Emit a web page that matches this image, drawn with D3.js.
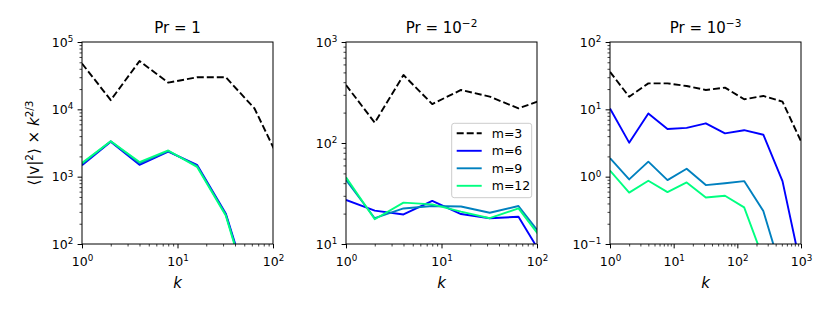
<!DOCTYPE html>
<html><head><meta charset="utf-8">
<script src="https://cdn.jsdelivr.net/npm/d3@7"></script>
<style>
body{margin:0;background:#fff}
svg{display:block;font-family:"DejaVu Sans",sans-serif}
</style></head><body>
<svg id="fig" width="830" height="312"></svg>
<script>
// wavenumbers for each panel
var kPr1 = [1,2,4,8,16,32,64,128];
var kPr2 = [1,2,4,8,16,32,64,128];
var kPr3 = [1,2,4,8,16,32,64,128,256,512,1024];

// <|v|^2> x k^(2/3)
var pr1_m3  = [48000,13700,52000,24900,29900,30000,10300,1340];
var pr1_m6  = [1480,3300,1500,2350,1500,285,12,2];
var pr1_m9  = [1540,3350,1580,2400,1450,275,11,2];
var pr1_m12 = [1600,3350,1650,2450,1400,265,10,2];

var pr2_m3  = [375,159,471,243,335,288,220,279];
var pr2_m6  = [27.3,21.4,19.6,26.7,19.8,18,18.6,6.3];
var pr2_m9  = [43,18,22.5,23.8,23.5,20.4,23.8,10.2];
var pr2_m12 = [45.7,17.6,25.7,24.7,20.9,18,22.5,9.5];

var pr3_m3  = [36,15.4,24.3,24.3,22.2,19.4,21,14.1,15.8,13,3.2];
var pr3_m6  = [10.3,3.2,8.7,5.1,5.3,6.2,4.4,4.9,4.2,0.86,0.04];
var pr3_m9  = [1.88,0.91,1.67,0.89,1.31,0.75,0.8,0.86,0.31,0.035,0.01];
var pr3_m12 = [1.23,0.58,0.87,0.59,0.82,0.49,0.52,0.35,0.06,0.01,0.005];

var mLabels = ["m=3","m=6","m=9","m=12"];
var mColors = ["#000000","#0000ff","#0080bf","#00ff80"];
var titleBase = ["Pr = 1","Pr = 10","Pr = 10"];
var titleExp = [null,"\u22122","\u22123"];
var xRanges = [[1,100],[1,100],[1,1000]];
var yRanges = [[100,1e5],[10,1000],[0.1,100]];

var panels = [
  {k: kPr1, series: [pr1_m3,pr1_m6,pr1_m9,pr1_m12]},
  {k: kPr2, series: [pr2_m3,pr2_m6,pr2_m9,pr2_m12]},
  {k: kPr3, series: [pr3_m3,pr3_m6,pr3_m9,pr3_m12]}
];

var lefts = [82, 346, 610], axTop = 42, w = 191, h = 202;
var fs = 12.5, bigFs = 15, lw = 1.9;
var majLen = 4.4, minLen = 2.5, pad = 4.4;

var svg = d3.select("#fig");

function expStr(v){
  var e = Math.round(Math.log10(v));
  return e < 0 ? "\u2212" + (-e) : "" + e;
}
function tickSets(dom){
  var lo = Math.round(Math.log10(dom[0])), hi = Math.round(Math.log10(dom[1]));
  var maj = [], min = [];
  for (var e = lo; e <= hi; e++){
    maj.push(Math.pow(10, e));
    if (e < hi) for (var j = 2; j < 10; j++) min.push(j * Math.pow(10, e));
  }
  return {maj: maj, min: min};
}
function powLabel(t, v, size){
  t.append("tspan").text("10");
  t.append("tspan").attr("dy", -0.38*size).attr("font-size", 0.7*size).text(expStr(v));
}

panels.forEach(function(p, i){
  var g = svg.append("g").attr("transform", "translate(" + lefts[i] + "," + axTop + ")");
  var x = d3.scaleLog().domain(xRanges[i]).range([0, w]);
  var y = d3.scaleLog().domain(yRanges[i]).range([h, 0]);

  g.append("clipPath").attr("id", "clip" + i)
    .append("rect").attr("width", w).attr("height", h);

  var line = d3.line()
    .x(function(d){ return x(d[0]); })
    .y(function(d){ return y(d[1]); });

  var plot = g.append("g").attr("clip-path", "url(#clip" + i + ")");
  p.series.forEach(function(s, j){
    plot.append("path")
      .datum(p.k.map(function(kk, n){ return [kk, s[n]]; }))
      .attr("d", line)
      .attr("fill", "none")
      .attr("stroke", mColors[j])
      .attr("stroke-width", lw)
      .attr("stroke-linejoin", "round")
      .attr("stroke-dasharray", j === 0 ? "7,3" : null);
  });

  var xt = tickSets(xRanges[i]), yt = tickSets(yRanges[i]);

  // minor ticks
  g.append("g").attr("transform", "translate(0," + h + ")")
    .call(d3.axisBottom(x).tickValues(xt.min).tickSize(minLen).tickFormat(""))
    .call(function(a){ a.select(".domain").remove(); a.selectAll("line").attr("stroke-width", 0.75); });
  g.append("g")
    .call(d3.axisLeft(y).tickValues(yt.min).tickSize(minLen).tickFormat(""))
    .call(function(a){ a.select(".domain").remove(); a.selectAll("line").attr("stroke-width", 0.75); });

  // major ticks + labels
  var xa = g.append("g").attr("transform", "translate(0," + h + ")")
    .call(d3.axisBottom(x).tickValues(xt.maj).tickSize(majLen).tickPadding(pad).tickFormat(""));
  xa.select(".domain").remove();
  xa.selectAll(".tick text").attr("y", 22).attr("dy", null)
    .attr("font-size", fs).attr("font-family", "DejaVu Sans").attr("fill", "#000")
    .each(function(v){ powLabel(d3.select(this), v, fs); });

  var ya = g.append("g")
    .call(d3.axisLeft(y).tickValues(yt.maj).tickSize(majLen).tickPadding(pad).tickFormat(""));
  ya.select(".domain").remove();
  ya.selectAll(".tick text").attr("dy", null).attr("y", 4.3)
    .attr("font-size", fs).attr("font-family", "DejaVu Sans").attr("fill", "#000")
    .each(function(v){ powLabel(d3.select(this), v, fs); });

  // frame
  g.append("rect").attr("width", w).attr("height", h)
    .attr("fill", "none").attr("stroke", "#000").attr("stroke-width", 1);

  // title
  var tt = g.append("text").attr("x", w/2).attr("y", -9)
    .attr("text-anchor", "middle").attr("font-size", bigFs);
  tt.append("tspan").text(titleBase[i]);
  if (titleExp[i]) tt.append("tspan").attr("dy", -0.4*bigFs).attr("font-size", 0.7*bigFs).text(titleExp[i]);

  // x label
  g.append("text").attr("x", w/2).attr("y", h + 44)
    .attr("text-anchor", "middle").attr("font-size", bigFs)
    .attr("font-style", "italic").text("k");

  // legend in the middle panel
  if (i === 1){
    var lg = g.append("g").attr("transform", "translate(105.7,81.3)");
    lg.append("rect").attr("width", 80).attr("height", 74.4).attr("rx", 2.5)
      .attr("fill", "#fff").attr("fill-opacity", 0.8)
      .attr("stroke", "#ccc").attr("stroke-width", 1);
    mLabels.forEach(function(lab, j){
      var ry = 10 + j * 17.5;
      lg.append("line").attr("x1", 5).attr("x2", 30).attr("y1", ry).attr("y2", ry)
        .attr("stroke", mColors[j]).attr("stroke-width", lw)
        .attr("stroke-dasharray", j === 0 ? "7,3" : null);
      lg.append("text").attr("x", 40).attr("y", ry + 4.4)
        .attr("font-size", fs).text(lab);
    });
  }
});

// y label on the first panel
var yl = svg.append("text")
  .attr("transform", "translate(38.5," + (axTop + h/2) + ") rotate(-90)")
  .attr("text-anchor", "middle").attr("font-size", bigFs);
yl.append("tspan").text("\u27E8|v|");
yl.append("tspan").attr("dy", -0.4*bigFs).attr("font-size", 0.7*bigFs).text("2");
yl.append("tspan").attr("dy", 0.4*bigFs).text("\u27E9 \u00D7 ");
yl.append("tspan").attr("font-style", "italic").text("k");
yl.append("tspan").attr("dy", -0.4*bigFs).attr("font-size", 0.7*bigFs).text("2/3");
</script>
</body></html>
